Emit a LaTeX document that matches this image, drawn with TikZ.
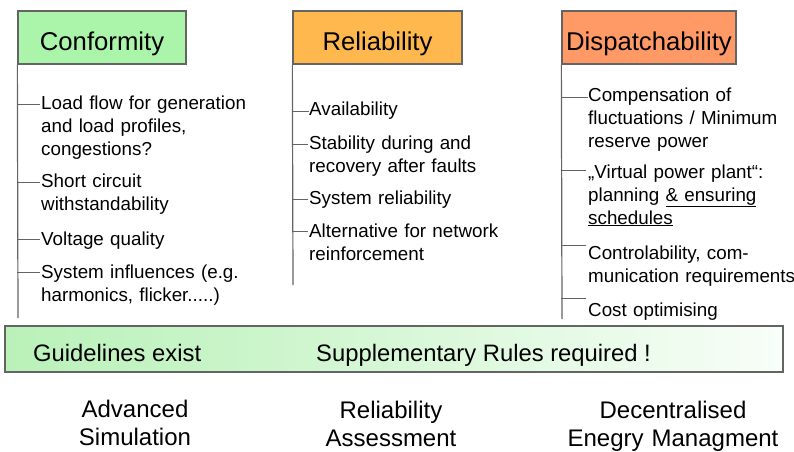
\documentclass[tikz,border=0pt]{standalone}
\usepackage{fontspec}
\setmainfont{Liberation Sans}
\definecolor{confgreen}{RGB}{170,245,170}
\definecolor{relorange}{RGB}{255,184,77}
\definecolor{disporange}{RGB}{255,153,102}
\definecolor{linegray}{RGB}{100,100,100}
\definecolor{bargreen}{RGB}{158,236,158}
\pgfdeclarehorizontalshading{barshade}{100bp}{color(0bp)=(bargreen); color(40bp)=(bargreen!55!white); color(80bp)=(white); color(100bp)=(white)}
\begin{document}
\begin{tikzpicture}[x=1pt,y=-1pt,
  headbox/.style={draw=linegray, line width=1.3pt, inner sep=0pt,
    text height=25pt, text depth=0pt, minimum height=53pt,
    font=\fontsize{25.7}{30}\selectfont},
  trunk/.style={draw=linegray, line width=1.2pt},
  tickline/.style={draw=linegray, line width=0.9pt},
  item/.style={anchor=base west, inner sep=0pt, text width=260pt, align=left,
    font=\fontsize{18.8}{23}\selectfont},
  bartext/.style={anchor=base west, inner sep=0pt, font=\fontsize{23.8}{28}\selectfont},
  bottomlabel/.style={anchor=base, inner sep=0pt, text width=260pt, align=center,
    font=\fontsize{24}{28}\selectfont}]
\useasboundingbox (0,0) rectangle (794,451);

% headers
\node[headbox, fill=confgreen, minimum width=168pt] (conf) at (102,37.5) {Conformity};
\node[headbox, fill=relorange, minimum width=169pt] (rel) at (377.5,37.5) {Reliability};
\node[headbox, fill=disporange, minimum width=174pt] (disp) at (649,37.5) {Dispatchability};

% trunks
\coordinate (confend) at (18,318);
\coordinate (relend) at (293,285);
\coordinate (dispend) at (562,319);
\draw[trunk] (conf.south west) -- (confend);
\draw[trunk] (rel.south west) -- (relend);
\draw[trunk] (disp.south west) -- (dispend);

% Conformity items
\node[item] (c1) at (41,109) {Load flow for generation\\and load profiles,\\congestions?};
\node[item] (c2) at (41,187) {Short circuit\\withstandability};
\node[item] (c3) at (41,245) {Voltage quality};
\node[item] (c4) at (41,278) {System influences (e.g.\\harmonics, flicker.....)};
\coordinate (ct1) at (40,104);
\coordinate (ct2) at (40,182);
\coordinate (ct3) at (40,239);
\coordinate (ct4) at (40,272);
\foreach \t in {ct1,ct2,ct3,ct4} \draw[tickline] (conf.west |- \t) -- (\t);

% Reliability items
\node[item] (r1) at (309,115) {Availability};
\node[item] (r2) at (309,149) {Stability during and\\recovery after faults};
\node[item] (r3) at (309,204) {System reliability};
\node[item] (r4) at (309,237) {Alternative for network\\reinforcement};
\coordinate (rt1) at (309,111);
\coordinate (rt2) at (308,144);
\coordinate (rt3) at (308,199);
\coordinate (rt4) at (308,231);
\foreach \t in {rt1,rt2,rt3,rt4} \draw[tickline] (rel.west |- \t) -- (\t);

% Dispatchability items
\node[item] (d1) at (588,101) {Compensation of\\fluctuations / Minimum\\reserve power};
\node[item] (d2) at (588,178) {„Virtual power plant“:\\planning \underline{\& ensuring}\\\underline{schedules}};
\node[item] (d3) at (588,259) {Controlability, com-\\munication requirements};
\node[item] (d4) at (588,316) {Cost optimising};
\coordinate (dt1) at (588,97);
\coordinate (dt2) at (586,170);
\coordinate (dt3) at (586,245);
\coordinate (dt4) at (586,298);
\foreach \t in {dt1,dt2,dt3,dt4} \draw[tickline] (disp.west |- \t) -- (\t);

% bar
\node[draw=linegray, line width=1.2pt, shading=barshade, minimum width=778pt,
  minimum height=46pt, inner sep=0pt] (bar) at (394,349) {};
\node[bartext] (g1) at (33,361) {Guidelines exist};
\node[bartext] (g2) at (316,361) {Supplementary Rules required !};

% bottom labels
\node[bottomlabel] (l1) at (135,417) {Advanced\\Simulation};
\node[bottomlabel] (l2) at (391,418) {Reliability\\Assessment};
\node[bottomlabel] (l3) at (673,418) {Decentralised\\Enegry Managment};
\end{tikzpicture}
\end{document}
